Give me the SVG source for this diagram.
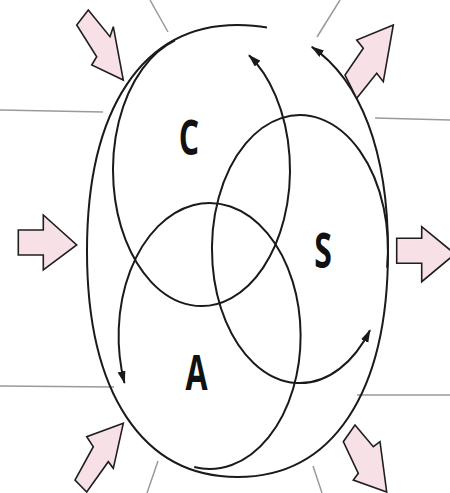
<svg xmlns="http://www.w3.org/2000/svg" width="450" height="493" viewBox="0 0 450 493">
<style>
.bg{fill:#ffffff}
.gl{stroke:#9a9a9a;stroke-width:1.5;fill:none}
.arc{stroke:#1a1a1a;stroke-width:2;fill:none}
.ba{fill:#f8e0e7;stroke:#1f1f1f;stroke-width:1.6;stroke-linejoin:miter}
.lbl{font-family:"Open Sans","Liberation Sans",sans-serif;font-weight:700;font-size:32px;fill:#111;text-anchor:middle}
</style>
<defs>
<marker id="ah" markerWidth="14" markerHeight="10" refX="12" refY="4" orient="auto" markerUnits="userSpaceOnUse">
<path d="M0,0 L13,4 L0,8 z" fill="#1a1a1a"/>
</marker>
</defs>
<rect class="bg" x="0" y="0" width="450" height="493"/>
<g id="guides">
<line class="gl" x1="150" y1="0" x2="168" y2="32"/>
<line class="gl" x1="0" y1="110" x2="103" y2="112"/>
<line class="gl" x1="340" y1="0" x2="317" y2="37"/>
<line class="gl" x1="375" y1="118" x2="450" y2="120"/>
<line class="gl" x1="0" y1="386" x2="114" y2="387"/>
<line class="gl" x1="158" y1="461" x2="147" y2="493"/>
<line class="gl" x1="357" y1="395" x2="450" y2="395"/>
<line class="gl" x1="313" y1="466" x2="322" y2="493"/>
</g>
<g id="connectors">
<path id="outer" class="arc" marker-end="url(#ah)" d="M267,27.6 C257,25.6 247.5,25 237.5,25 C142.7,25 87,108.6 87,251 C87,393.4 142.7,477 237.5,477 C332.3,477 388,393.6 388,251 C388,151.3 360.7,80.5 311.8,46.9"/>
<path id="arcC" class="arc" marker-end="url(#ah)" d="M175,40.3 A88.5,136 0 1 0 249,55.3"/>
<path id="arcA" class="arc" marker-end="url(#ah)" d="M194.2,467 A91,133 0 1 0 124.5,383"/>
<path id="arcS" class="arc" marker-end="url(#ah)" d="M387.1,267.7 A88,134 0 1 0 370,330.2"/>
</g>
<g id="nodeC"><text class="lbl" transform="translate(189,155) scale(1,1.5)">C</text></g>
<g id="nodeS"><text class="lbl" transform="translate(323,268) scale(1,1.5)">S</text></g>
<g id="nodeA"><text class="lbl" transform="translate(196.5,390) scale(1,1.5)">A</text></g>
<g id="in1"><polygon class="ba" points="88.3,10 110,36.7 113.3,26.7 123.3,80 91.7,65 96.7,56.7 76.7,25"/></g>
<g id="in2"><polygon class="ba" points="18.3,230 43.3,230 43.3,215 76.7,245 43.3,270 43.3,255 18.3,255"/></g>
<g id="in3"><polygon class="ba" points="123.3,423.3 86.7,436.7 93.3,446.7 75,480 86.7,492 108.3,461.7 113.3,468.3"/></g>
<g id="out1"><polygon class="ba" points="393.3,25 356.7,40 363.3,48.3 345,75 356.7,98.3 376.7,73.3 383.3,81.7"/></g>
<g id="out2"><polygon class="ba" points="396.7,238.3 421.7,238.3 421.7,226.7 455,254 421.7,281.7 421.7,263.3 396.7,263.3"/></g>
<g id="out3"><polygon class="ba" points="355,425 373.3,446.7 380,441.7 386.7,492 353.3,480 358.3,473.3 343.3,441.7"/></g>
</svg>
